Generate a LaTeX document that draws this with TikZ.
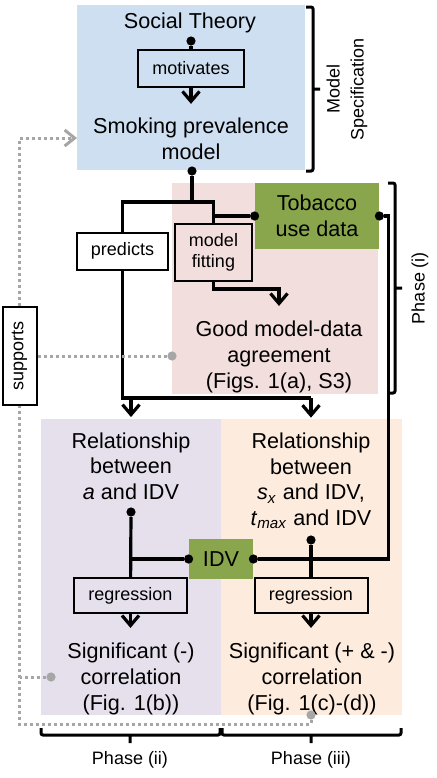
\documentclass[tikz,border=0pt]{standalone}
\usepackage{fontspec}
\setmainfont{Liberation Sans}
\usetikzlibrary{arrows.meta}
\definecolor{specblue}{HTML}{CEDFF2}
\definecolor{fitpink}{HTML}{F2DEDC}
\definecolor{datagreen}{HTML}{8AA64C}
\definecolor{twolilac}{HTML}{E6E0EC}
\definecolor{threepeach}{HTML}{FDEBDD}
\definecolor{hintgray}{HTML}{A6A6A6}
\tikzset{
  txt/.style={inner sep=0pt, align=center, font=\fontsize{10.8}{12.8}\selectfont},
  tag/.style={draw, line width=1pt, inner sep=0pt, align=center, font=\fontsize{9}{10.6}\selectfont},
  area/.style={inner sep=0pt, outer sep=0pt},
  link/.style={line width=1.6pt},
  arr/.style={link, -{Straight Barb[length=5pt,width=8.5pt]}},
  dot/.style={circle, fill, inner sep=0pt, minimum size=4.6pt},
  gdot/.style={dot, fill=hintgray},
  hint/.style={hintgray, line width=1.5pt, dash pattern=on 1.5pt off 1.5pt},
  brace/.style={line width=1.5pt, rounded corners=1pt},
  phase/.style={inner sep=0pt, align=center, font=\fontsize{9}{12}\selectfont}
}

\begin{document}
\begin{tikzpicture}[x=0.5pt, y=-0.5pt]
\useasboundingbox (0,0) rectangle (436,778);
\node[area, fill=specblue, minimum width=114pt, minimum height=82.5pt] (spec) at (191,87.5) {};
\node[area, fill=fitpink, minimum width=103pt, minimum height=105.5pt] (fitarea) at (275,288.5) {};
\node[area, fill=twolilac, minimum width=90pt, minimum height=148pt] (two) at (131,567) {};
\node[area, fill=threepeach, minimum width=90.5pt, minimum height=148pt] (three) at (311.5,567) {};

\node[txt] (theory) at (190,23) {Social Theory};
\node[tag, fill=specblue, minimum width=53pt, minimum height=18.5pt] (motiv) at (191,68.5) {motivates};
\node[txt] (model) at (191,139) {Smoking prevalence\\model};
\node[txt, fill=datagreen, minimum width=62pt, minimum height=33pt] (tobacco) at (317,216) {Tobacco\\use data};
\node[tag, fill=white, minimum width=45.5pt, minimum height=18.5pt] (predicts) at (122.5,251) {predicts};
\node[tag, fill=fitpink, minimum width=38.5pt, minimum height=28.5pt] (fitting) at (213.5,252.5) {model\\fitting};
\node[txt] (agree) at (279,357) {Good model-data\\agreement\\(Figs. 1(a), S3)};
\node[txt] (relA) at (131,466) {Relationship\\between\\\textit{a} and IDV};
\node[txt] (relS) at (311,481) {Relationship\\between\\\textit{s}\textsubscript{\textit{x}} and IDV,\\\textit{t}\textsubscript{\textit{max}} and IDV};
\node[txt, fill=datagreen, minimum width=32pt, minimum height=20pt] (idv) at (221,559) {IDV};
\node[tag, fill=twolilac, minimum width=56.5pt, minimum height=17.5pt] (regA) at (130.5,595.5) {regression};
\node[tag, fill=threepeach, minimum width=56.5pt, minimum height=17.5pt] (regS) at (311,595.5) {regression};
\node[txt] (sigA) at (131,679) {Significant (-)\\correlation\\(Fig. 1(b))};
\node[txt] (sigS) at (312,679) {Significant (+ \& -)\\correlation\\(Fig. 1(c)-(d))};
\node[tag, fill=white, rotate=90, minimum width=49pt, minimum height=17pt] (supports) at (19.5,356) {supports};

\node[dot] (theoryDot) at (191,41) {};
\node[dot] (modelDot) at (192,171) {};
\node[dot] (tobInDot) at (tobacco.west) {};
\node[dot] (tobOutDot) at (tobacco.east) {};
\node[dot] (idvInDot) at (idv.east) {};
\node[dot] (idvOutDot) at (idv.west) {};
\node[dot] (relADot) at (131,512) {};
\node[dot] (relSDot) at (311,540) {};
\node[gdot] (agreeDot) at (172,356) {};
\node[gdot] (sigADot) at (51,677) {};
\node[gdot] (sigSDot) at (311,715) {};
\coordinate (split) at (192,202);
\coordinate (fork) at (122,398);
\coordinate (specIn) at (77,138);

\draw[link] (theoryDot) -- (motiv);
\draw[arr, shorten >=7pt] (motiv) -- (model);
\draw[link] (modelDot) -- (split) -| (predicts.north);
\draw[link] (split) -| (fitting.north);
\draw[link] (tobInDot) -- (tobInDot -| fitting.north);
\draw[arr, shorten >=7.5pt] (fitting.south) -- ++(0,7) -| (agree.north);
\draw[link] (predicts.south) |- (fork -| relS.north);
\draw[arr, shorten >=7.5pt] (fork -| relA.north) -- (relA.north);
\draw[arr, shorten >=7.5pt] (fork -| relS.north) -- (relS.north);
\draw[link] (tobOutDot) -- ++(9,0) |- (idvInDot);
\draw[link] (relADot) -- (regA);
\draw[link] (idvOutDot) -- (idvOutDot -| relADot);
\draw[link] (relSDot) -- (regS);
\draw[arr, shorten >=7.5pt] (regA.south) -- (regA.south |- sigA.north);
\draw[arr, shorten >=7.5pt] (regS.south) -- (regS.south |- sigS.north);

\draw[hint] (agreeDot) -- (supports);
\draw[hint] (sigADot) -- (sigADot -| supports);
\draw[hint] (sigSDot) -- ++(0,9) -| (supports);
\draw[hint, -{Straight Barb[length=5pt,width=8pt]}] (supports) |- (specIn);

\draw[brace] (306,7) -- (313,7) -- (313,171) -- (306,171) (313,89) -- (320,89);
\node[phase, rotate=90] (specLbl) at (347,89) {Model\\Specification};
\draw[brace] (388,183) -- (395,183) -- (395,393) -- (388,393) (395,288) -- (402,288);
\node[phase, rotate=90] (phaseOne) at (420,288) {Phase (i)};
\draw[brace] (41,728) -- (41,735) -- (220,735) -- (220,728) (130,735) -- (130,743);
\draw[brace] (222,728) -- (222,735) -- (401,735) -- (401,728) (311,735) -- (311,743);
\node[phase] (phaseTwo) at (130,760) {Phase (ii)};
\node[phase] (phaseThree) at (311,760) {Phase (iii)};
\end{tikzpicture}
\end{document}
